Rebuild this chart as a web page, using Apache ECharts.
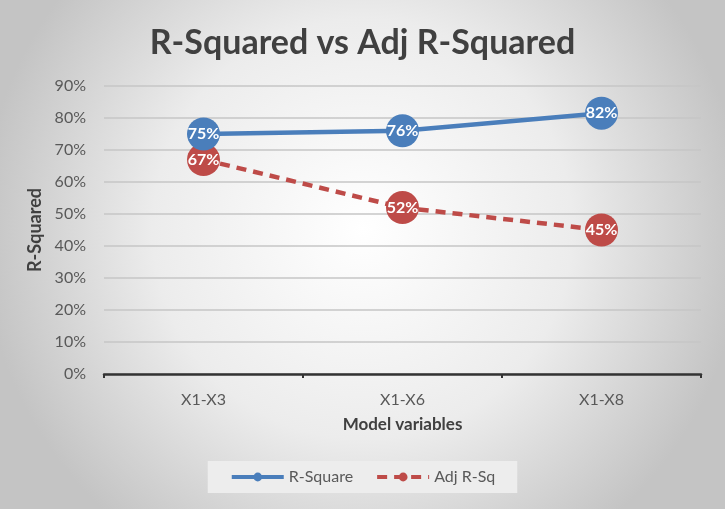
<!DOCTYPE html>
<html><head><meta charset="utf-8">
<script src="https://cdn.jsdelivr.net/npm/echarts@6/dist/echarts.min.js"></script>
<style>html,body{margin:0;padding:0;background:#fff}#c{width:725px;height:509px}</style>
</head><body><div id="c"></div>
<script>
const categories = ['X1-X3', 'X1-X6', 'X1-X8'];
const rSquare = [0.75, 0.76, 0.815];
const adjRSq = [0.67, 0.52, 0.45];
const yTicks = [0, 0.1, 0.2, 0.3, 0.4, 0.5, 0.6, 0.7, 0.8, 0.9];

const chart = echarts.init(document.getElementById('c'));
const font = 'Lato, "Open Sans", sans-serif';
const lbl = {
  show: true, position: 'inside', color: '#fff', fontWeight: 'bold', fontSize: 16, fontFamily: font,
  formatter: p => Math.round(p.value * 100) + '%'
};
chart.setOption({
  backgroundColor: {
    type: 'radial', x: 0.5, y: 0.45, r: 0.75,
    colorStops: [{offset: 0, color: '#ffffff'}, {offset: 0.55, color: '#ececec'}, {offset: 1, color: '#c4c4c4'}]
  },
  title: {
    text: 'R-Squared vs Adj R-Squared', left: 'center', top: 21,
    textStyle: {fontFamily: font, fontWeight: 'bold', fontSize: 34, color: '#404040'}
  },
  grid: {left: 104, right: 24, top: 86, bottom: 135},
  legend: {
    bottom: 16, left: 'center', itemWidth: 52, itemHeight: 11, itemGap: 22,
    backgroundColor: '#ededed', padding: [8, 22, 8, 22],
    lineStyle: {width: 4},
    textStyle: {fontFamily: font, fontSize: 16, color: '#595959'},
    data: ['R-Square', 'Adj R-Sq']
  },
  xAxis: {
    type: 'category', data: categories, boundaryGap: true,
    name: 'Model variables', nameLocation: 'middle', nameGap: 42,
    nameTextStyle: {fontFamily: font, fontWeight: 'bold', fontSize: 17, color: '#404040'},
    axisLine: {lineStyle: {color: '#333', width: 2.5}},
    axisTick: {show: true, length: 4, lineStyle: {color: '#333', width: 2}},
    axisLabel: {fontFamily: font, fontSize: 16, color: '#595959', margin: 18}
  },
  yAxis: {
    type: 'value', min: 0, max: 0.9, interval: 0.1,
    name: 'R-Squared', nameLocation: 'middle', nameGap: 60, nameRotate: 90,
    nameTextStyle: {fontFamily: font, fontWeight: 'bold', fontSize: 18, color: '#404040'},
    axisLine: {show: false}, axisTick: {show: false},
    axisLabel: {fontFamily: font, fontSize: 16, color: '#595959', margin: 18,
      formatter: v => Math.round(v * 100) + '%'},
    splitLine: {lineStyle: {color: '#c6c6c6', width: 1.5}}
  },
  series: [
    {name: 'R-Square', type: 'line', data: rSquare, symbol: 'circle', symbolSize: 33,
     itemStyle: {color: '#4a7ebb'}, lineStyle: {color: '#4a7ebb', width: 4.5}, label: lbl, z: 3},
    {name: 'Adj R-Sq', type: 'line', data: adjRSq, symbol: 'circle', symbolSize: 33,
     itemStyle: {color: '#be4b48'}, lineStyle: {color: '#be4b48', width: 4.5, type: [10, 7]}, label: lbl, z: 2}
  ]
});
</script></body></html>
